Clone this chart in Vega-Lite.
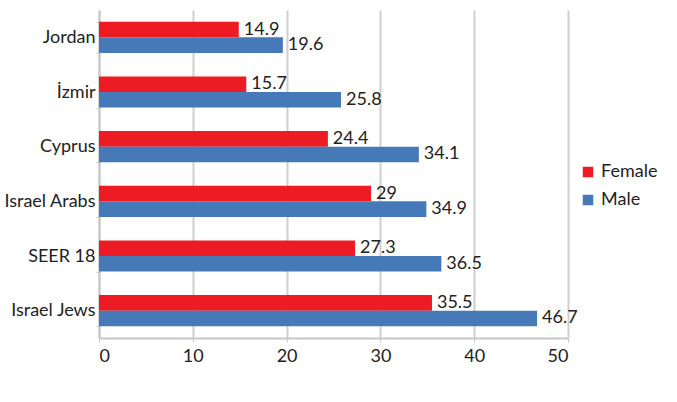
{
  "$schema": "https://vega.github.io/schema/vega-lite/v6.json",
  "width": 469,
  "height": 328,
  "autosize": {"type": "none"},
  "padding": {"left": 99, "top": 10, "right": 109, "bottom": 64},
  "background": "white",
  "config": {
    "font": "Lato",
    "view": {"stroke": null},
    "axis": {"labelFont": "Lato", "labelFontSize": 18, "labelColor": "#222222", "domainColor": "#c8c8c8", "tickColor": "#c8c8c8", "gridColor": "#cfcfcf", "domainWidth": 2, "gridWidth": 2}
  },
  "data": {
    "values": [
      {"region": "Jordan", "sex": "Female", "value": 14.9},
      {"region": "Jordan", "sex": "Male", "value": 19.6},
      {"region": "İzmir", "sex": "Female", "value": 15.7},
      {"region": "İzmir", "sex": "Male", "value": 25.8},
      {"region": "Cyprus", "sex": "Female", "value": 24.4},
      {"region": "Cyprus", "sex": "Male", "value": 34.1},
      {"region": "Israel Arabs", "sex": "Female", "value": 29},
      {"region": "Israel Arabs", "sex": "Male", "value": 34.9},
      {"region": "SEER 18", "sex": "Female", "value": 27.3},
      {"region": "SEER 18", "sex": "Male", "value": 36.5},
      {"region": "Israel Jews", "sex": "Female", "value": 35.5},
      {"region": "Israel Jews", "sex": "Male", "value": 46.7}
    ]
  },
  "encoding": {
    "y": {
      "field": "region",
      "type": "nominal",
      "sort": ["Jordan", "İzmir", "Cyprus", "Israel Arabs", "SEER 18", "Israel Jews"],
      "scale": {"paddingInner": 0.43, "paddingOuter": 0.215},
      "axis": {"title": null, "tickBand": "extent", "tickSize": 3, "labelPadding": 1, "grid": false}
    },
    "yOffset": {"field": "sex", "type": "nominal", "sort": ["Female", "Male"]},
    "x": {
      "field": "value",
      "type": "quantitative",
      "scale": {"domain": [0, 50]},
      "axis": {"title": null, "values": [0, 10, 20, 30, 40, 50], "tickSize": 4, "labelPadding": 5, "grid": true}
    }
  },
  "layer": [
    {
      "mark": {"type": "bar"},
      "encoding": {
        "color": {
          "field": "sex",
          "type": "nominal",
          "scale": {"domain": ["Female", "Male"], "range": ["#ed1c24", "#4579b8"]},
          "legend": {"title": null, "orient": "none", "legendX": 480, "legendY": 153, "symbolType": "square", "symbolSize": 110, "labelFontSize": 18, "labelFont": "Lato", "labelColor": "#222222", "rowPadding": 10, "symbolStrokeWidth": 0}
        }
      }
    },
    {
      "mark": {"type": "text", "align": "left", "baseline": "middle", "dx": 5, "fontSize": 18, "color": "#222222", "font": "Lato"},
      "encoding": {"text": {"field": "value", "type": "quantitative"}}
    }
  ]
}
